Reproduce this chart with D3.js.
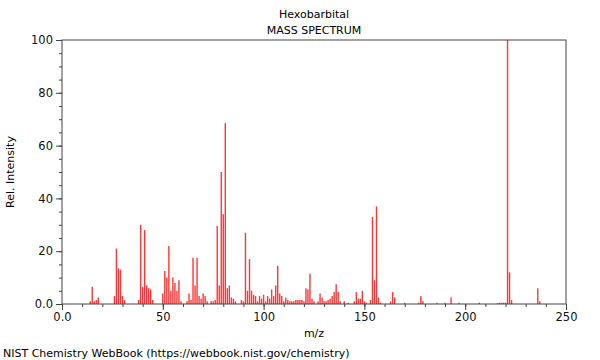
<!DOCTYPE html>
<html>
<head>
<style>
body{ margin:0; background:#fff; }
text{ font-family: "DejaVu Sans", sans-serif; }
</style>
<script src="https://d3js.org/d3.v7.min.js"></script>
</head>
<body>
<script>
// m/z values and relative intensities
var mz = [14, 15, 16, 17, 18, 26, 27, 28, 29, 30, 31, 38, 39, 40, 41, 42, 43, 44, 45,
          50, 51, 52, 53, 54, 55, 56, 57, 58, 59, 62, 63, 64, 65, 66, 67, 68, 69, 70, 71, 72,
          74, 75, 76, 77, 78, 79, 80, 81, 82, 83, 84, 85, 86, 89, 90, 91, 92, 93, 94, 95,
          96, 97, 98, 99, 100, 101, 102, 103, 104, 105, 106, 107, 108, 109, 110, 111, 112,
          113, 114, 115, 116, 117, 118, 119, 120, 121, 122, 123, 124, 125, 127, 128, 129,
          130, 131, 132, 133, 134, 135, 136, 137, 138, 140, 142, 145, 146, 147, 148, 149,
          150, 151, 153, 154, 155, 156, 157, 158, 163, 164, 165, 170, 177, 178, 179, 186,
          190, 193, 197, 207, 216, 217, 218, 219, 220, 221, 222, 223, 236, 237]
var intensity = [1, 6.5, 1, 1.5, 2.5, 3, 21, 13.5, 13, 3, 1.5, 1.5, 30, 6.5, 28, 7, 6, 5.5, 1.5,
          4, 12.5, 10, 22, 5, 10, 8, 5, 9, 1, 1, 4, 1.5, 17.5, 7, 17.5, 3, 2, 4, 3, 1,
          1, 1, 1.5, 29.5, 7, 50, 34, 68.5, 6, 7, 2.5, 2, 1, 1.5, 1, 27, 5, 17, 5, 3.5,
          3, 1, 3, 2, 3.5, 1, 3, 2, 5.5, 3, 7, 14.5, 4, 3, 1, 2.5, 1.5,
          1, 1, 1, 1.5, 1.5, 1.5, 1.5, 1, 6, 5.5, 11.5, 2, 1, 1, 4, 2.5,
          1, 1, 1.5, 2, 3, 4.5, 7.5, 4.5, 1, 1, 0.5, 1, 4.5, 2, 2, 5,
          1, 0.5, 1.5, 33, 9, 37, 2.5, 0.5, 1, 4.5, 2.5, 0.5, 0.5, 3, 1, 0.5,
          0.5, 2.5, 0.5, 0.5, 0.3, 0.5, 0.5, 0.5, 0.5, 100, 12, 1.5, 6, 1]

var xTicks = [0, 50, 100, 150, 200, 250]
var yTicks = [0, 20, 40, 60, 80, 100]

var w = 600
var h = 360
var pLeft = 62, pRight = 566, pTop = 40, pBottom = 304

var svg = d3.select("body")
            .append("svg")
            .attr("width", w)
            .attr("height", h)

var xScale = d3.scaleLinear()
               .domain([0, 250])
               .range([pLeft, pRight])

var yScale = d3.scaleLinear()
               .domain([0, 100])
               .range([pBottom, pTop])

var data = mz.map(function(d, i){ return [d, intensity[i]] })

// spectrum lines
svg.append("g")
   .selectAll("line")
   .data(data)
   .enter()
   .append("line")
   .attr("x1", function(d){ return xScale(d[0]) })
   .attr("x2", function(d){ return xScale(d[0]) })
   .attr("y1", yScale(0))
   .attr("y2", function(d){ return yScale(d[1]) })
   .attr("stroke", "#ff3535")
   .attr("stroke-width", 1.4)

function fmt(d){ return d === 0 ? "0.0" : d }

// minor ticks
var xAxisMinor = d3.axisBottom(xScale).tickValues(d3.range(0, 251, 10)).tickSize(3).tickFormat("")
var yAxisMinor = d3.axisLeft(yScale).tickValues(d3.range(0, 101, 5)).tickSize(3).tickFormat("")
var xAxis = d3.axisBottom(xScale).tickValues(xTicks).tickSize(6).tickFormat(fmt)
var yAxis = d3.axisLeft(yScale).tickValues(yTicks).tickSize(6).tickFormat(fmt)

svg.append("g").attr("transform", "translate(0," + pBottom + ")").call(xAxisMinor)
svg.append("g").attr("transform", "translate(" + pLeft + ",0)").call(yAxisMinor)
svg.append("g").attr("class", "axis").attr("transform", "translate(0," + pBottom + ")").call(xAxis)
svg.append("g").attr("class", "axis").attr("transform", "translate(" + pLeft + ",0)").call(yAxis)

svg.selectAll(".domain").remove()
svg.selectAll(".tick line").attr("stroke", "#444")
svg.selectAll(".axis text")
   .attr("font-size", 11.5)
   .attr("fill", "#111")
   .attr("font-family", "DejaVu Sans, sans-serif")

// frame
svg.append("rect")
   .attr("x", pLeft)
   .attr("y", pTop)
   .attr("width", pRight - pLeft)
   .attr("height", pBottom - pTop)
   .attr("fill", "none")
   .attr("stroke", "#444")
   .attr("stroke-width", 1)

svg.append("text")
   .attr("x", (pLeft + pRight) / 2)
   .attr("y", 18)
   .attr("text-anchor", "middle")
   .attr("font-size", 11)
   .text("Hexobarbital")

svg.append("text")
   .attr("x", (pLeft + pRight) / 2)
   .attr("y", 34)
   .attr("text-anchor", "middle")
   .attr("font-size", 11)
   .text("MASS SPECTRUM")

svg.append("text")
   .attr("x", (pLeft + pRight) / 2)
   .attr("y", 337)
   .attr("text-anchor", "middle")
   .attr("font-size", 11)
   .text("m/z")

svg.append("text")
   .attr("transform", "translate(14," + ((pTop + pBottom) / 2) + ") rotate(-90)")
   .attr("text-anchor", "middle")
   .attr("font-size", 11)
   .text("Rel. Intensity")

svg.append("text")
   .attr("x", 3)
   .attr("y", 357)
   .attr("font-size", 11)
   .text("NIST Chemistry WebBook (https://webbook.nist.gov/chemistry)")
</script>
</body>
</html>
